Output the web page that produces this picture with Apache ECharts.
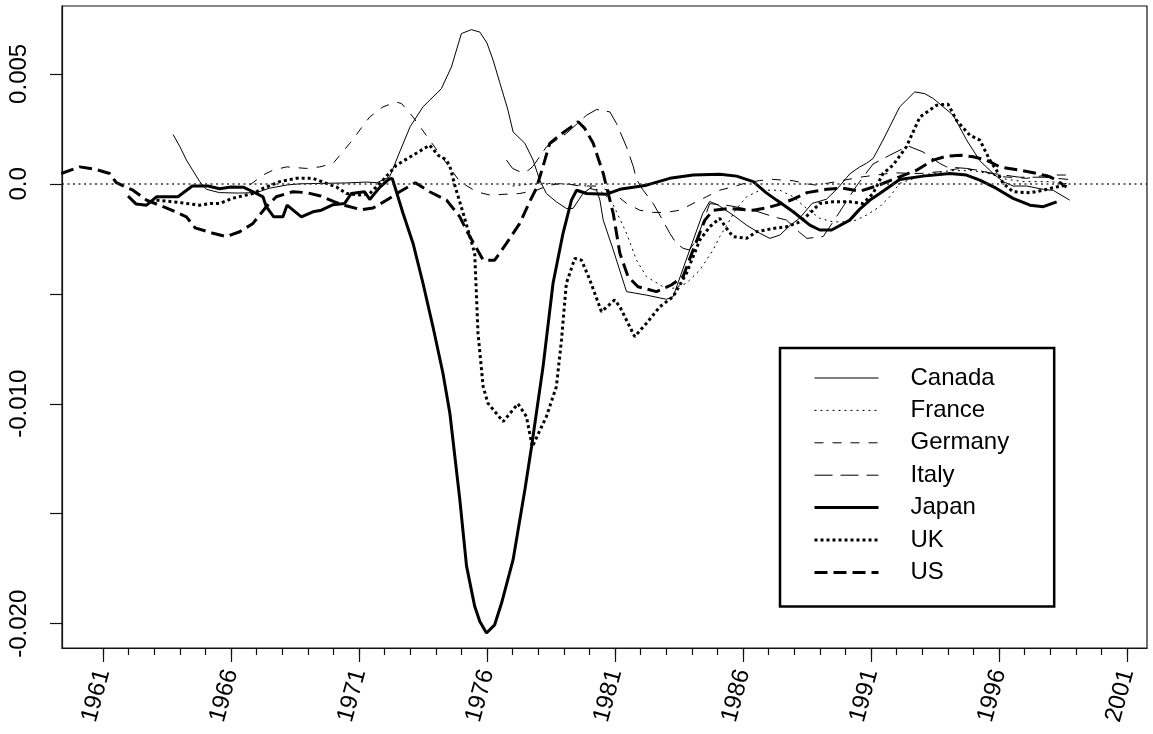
<!DOCTYPE html>
<html>
<head>
<meta charset="utf-8">
<script src="https://cdn.jsdelivr.net/npm/echarts@6/dist/echarts.min.js"></script>
<style>
html,body{margin:0;padding:0;background:#fff;}
#chart{width:1153px;height:734px;}
</style>
</head>
<body>
<div id="chart"></div>
<script>
// ---- data: [year, value] ----
var canada = [[1963.74,0.00224],[1964.0,0.0017],[1964.26,0.00108],[1964.78,0.0001],[1965.04,-0.00025],[1965.55,-0.0004],[1966.3,-0.00042],[1967.0,-0.0004],[1967.5,-0.0002],[1968.2,-0.00005],[1968.7,0.0],[1969.5,0.00002],[1970.5,0.00004],[1971.3,0.00008],[1971.7,0.00005],[1972.2,0.00032],[1972.59,0.00145],[1973.0,0.0026],[1973.5,0.0035],[1974.22,0.00433],[1974.61,0.00531],[1975.0,0.00683],[1975.39,0.00701],[1975.72,0.0069],[1976.0,0.0064],[1976.24,0.00562],[1976.5,0.0046],[1976.82,0.00335],[1977.02,0.00236],[1977.48,0.00184],[1977.8,0.00108],[1978.06,0.00017],[1978.32,-0.00044],[1978.71,-0.00082],[1979.1,-0.00112],[1979.36,-0.00112],[1979.75,-0.00044],[1980.02,-0.00021],[1980.28,-0.00029],[1980.41,-0.00074],[1980.54,-0.00165],[1980.93,-0.0030],[1981.45,-0.0049],[1982.23,-0.00506],[1983.01,-0.00525],[1983.27,-0.00513],[1983.92,-0.0030],[1984.43,-0.00134],[1984.70,-0.0008],[1985.03,-0.00097],[1985.61,-0.00142],[1986.14,-0.00188],[1986.66,-0.00225],[1987.05,-0.00248],[1987.44,-0.00233],[1987.83,-0.0019],[1988.22,-0.00155],[1988.7,-0.00089],[1989.26,-0.0007],[1989.7,-0.0002],[1990.17,0.00045],[1990.56,0.00077],[1990.82,0.00093],[1991.08,0.00115],[1991.47,0.00199],[1992.12,0.0035],[1992.71,0.00418],[1993.1,0.0041],[1993.43,0.00388],[1994.21,0.00312],[1994.73,0.002],[1995.25,0.00105],[1995.77,0.00047],[1996.16,0.0001],[1996.55,-0.0001],[1997.08,-0.0001],[1997.72,-0.00025],[1998.12,-0.0003],[1998.76,-0.00074]];
var france = [[1977.0,-0.0001],[1978.0,0.00003],[1979.0,0.0],[1979.8,-0.00008],[1980.4,-0.0003],[1980.7,-0.0006],[1980.93,-0.00095],[1981.45,-0.00225],[1981.84,-0.00347],[1982.23,-0.00422],[1982.88,-0.00468],[1983.27,-0.00475],[1983.79,-0.00452],[1984.31,-0.00392],[1984.83,-0.00301],[1985.09,-0.0024],[1985.36,-0.0019],[1985.7,-0.0012],[1986.14,-0.00059],[1986.66,-0.00029],[1987.44,-0.00029],[1987.96,-0.00059],[1988.48,-0.00112],[1989.0,-0.00157],[1989.52,-0.00173],[1990.04,-0.00173],[1990.43,-0.00165],[1990.82,-0.00142],[1991.34,-0.00104],[1991.73,-0.00059],[1992.12,0.00002],[1993.03,0.0004],[1994.08,0.0006],[1995.0,0.0006],[1995.64,0.00045],[1996.3,0.0002],[1997.0,0.0001],[1998.0,0.0001],[1998.7,0.0]];
var germany = [[1966.73,-0.00006],[1967.25,0.0004],[1967.64,0.00062],[1968.17,0.00077],[1968.95,0.0007],[1969.47,0.00077],[1969.99,0.00093],[1970.64,0.00184],[1971.42,0.00304],[1971.94,0.0035],[1972.46,0.00372],[1972.66,0.00365],[1973.11,0.00304],[1973.76,0.00199],[1974.42,0.00093],[1974.94,0.0001],[1975.59,-0.00036],[1976.11,-0.00051],[1977.28,-0.00044],[1977.93,-0.00029],[1978.45,-0.00006],[1979.0,0.00003],[1979.62,-0.0001],[1980.3,-0.0001],[1980.93,-0.0004],[1981.45,-0.00089],[1981.97,-0.0012],[1982.49,-0.0013],[1983.0,-0.0013],[1983.53,-0.0012],[1983.92,-0.00097],[1984.57,-0.00059],[1985.09,-0.00029],[1985.6,-0.00014],[1986.0,0.0],[1986.65,0.00015],[1987.18,0.0002],[1987.96,0.00014],[1988.48,0.0],[1988.87,-0.00006],[1989.65,0.0001],[1990.56,0.0003],[1991.86,0.0005],[1992.91,0.00047],[1993.68,0.00055],[1994.47,0.0007],[1995.25,0.00062],[1996.16,0.00032],[1997.08,0.00025],[1997.86,0.0004],[1998.8,0.0004]];
var italy = [[1976.76,0.00108],[1977.0,0.0007],[1977.28,0.00055],[1977.6,0.0006],[1977.8,0.0008],[1978.32,0.00168],[1979.1,0.00229],[1979.89,0.00312],[1980.28,0.00338],[1980.8,0.00327],[1981.06,0.00274],[1981.45,0.00168],[1981.71,0.0008],[1981.84,0.0002],[1982.1,-0.00029],[1982.49,-0.00089],[1982.75,-0.00142],[1983.14,-0.00225],[1983.4,-0.00271],[1983.66,-0.00293],[1983.9,-0.00301],[1984.18,-0.00256],[1984.7,-0.0009],[1985.5,-0.001],[1986.4,-0.0012],[1987.2,-0.0015],[1987.7,-0.00165],[1988.2,-0.0022],[1988.5,-0.00248],[1989.13,-0.0024],[1989.65,-0.0015],[1990.43,-0.0001],[1991.08,0.0009],[1991.73,0.0013],[1992.45,0.00172],[1993.03,0.00145],[1993.68,0.00093],[1993.95,0.00077],[1994.73,0.0007],[1995.77,0.00047],[1996.8,0.0003],[1997.8,0.0003],[1998.7,0.0002]];
var japan = [[1961.98,-0.00056],[1962.3,-0.00092],[1962.7,-0.00097],[1963.09,-0.00059],[1963.93,-0.00059],[1964.49,-0.0001],[1965.1,-0.0001],[1965.56,-0.00022],[1966.0,-0.00014],[1966.5,-0.00016],[1966.86,-0.00036],[1967.25,-0.00059],[1967.38,-0.00104],[1967.67,-0.0015],[1968.03,-0.0015],[1968.19,-0.00097],[1968.75,-0.0015],[1969.2,-0.00127],[1969.53,-0.0012],[1969.99,-0.00095],[1970.44,-0.00089],[1970.7,-0.00044],[1971.22,-0.00036],[1971.42,-0.00071],[1971.81,-0.00016],[1972.17,0.00021],[1972.3,0.00025],[1972.72,-0.00134],[1973.11,-0.0027],[1973.5,-0.00452],[1973.89,-0.0065],[1974.28,-0.00861],[1974.55,-0.01043],[1974.94,-0.01437],[1975.2,-0.01737],[1975.52,-0.01921],[1975.72,-0.0199],[1975.98,-0.02042],[1976.3,-0.02005],[1976.57,-0.01906],[1977.02,-0.01709],[1977.48,-0.01391],[1977.74,-0.01195],[1978.19,-0.00831],[1978.58,-0.00452],[1978.97,-0.00225],[1979.3,-0.00074],[1979.5,-0.00029],[1979.89,-0.00044],[1980.67,-0.00047],[1981.19,-0.00025],[1982.23,-0.00006],[1983.14,0.00025],[1984.05,0.0004],[1985.09,0.00044],[1985.75,0.00035],[1986.4,0.0001],[1986.9,-0.0004],[1987.31,-0.00074],[1987.96,-0.00127],[1988.61,-0.00188],[1989.0,-0.0021],[1989.46,-0.0021],[1990.17,-0.00165],[1990.56,-0.00115],[1990.96,-0.00074],[1991.34,-0.00044],[1992.12,0.0002],[1993.03,0.00035],[1994.08,0.00047],[1994.73,0.0004],[1995.25,0.00017],[1995.9,-0.00021],[1996.55,-0.00066],[1997.21,-0.00097],[1997.73,-0.00104],[1998.25,-0.00082]];
var uk = [[1963.09,-0.00074],[1963.99,-0.00085],[1964.78,-0.00097],[1965.2,-0.0009],[1965.56,-0.00089],[1966.08,-0.00065],[1966.86,-0.00044],[1967.25,-0.00021],[1967.9,0.0001],[1968.55,0.00025],[1969.2,0.00025],[1969.73,0.00002],[1970.12,-0.00014],[1970.51,-0.00044],[1971.03,-0.00051],[1971.42,-0.00044],[1971.94,0.00017],[1972.46,0.00085],[1973.11,0.0013],[1973.76,0.00176],[1974.09,0.0013],[1974.4,0.0011],[1974.55,0.0008],[1974.75,-0.0001],[1975.06,-0.0013],[1975.52,-0.00316],[1975.65,-0.0068],[1975.85,-0.00922],[1976.04,-0.00998],[1976.63,-0.01081],[1977.21,-0.01],[1977.54,-0.01058],[1977.77,-0.01195],[1978.32,-0.01058],[1978.71,-0.00922],[1978.91,-0.0071],[1979.1,-0.00452],[1979.43,-0.00339],[1979.69,-0.00347],[1980.02,-0.00437],[1980.47,-0.00581],[1980.99,-0.00528],[1981.19,-0.00559],[1981.77,-0.00695],[1982.23,-0.00634],[1982.75,-0.00559],[1983.27,-0.00513],[1983.79,-0.00407],[1984.31,-0.00256],[1984.7,-0.00195],[1985.09,-0.00157],[1985.36,-0.00203],[1985.61,-0.0024],[1986.14,-0.00248],[1986.53,-0.00218],[1987.18,-0.00203],[1987.7,-0.00195],[1988.22,-0.00173],[1988.61,-0.00134],[1989.0,-0.00089],[1989.52,-0.00082],[1990.17,-0.00082],[1990.69,-0.00089],[1991.08,-0.00044],[1991.47,0.00047],[1991.86,0.00085],[1992.38,0.00168],[1992.91,0.00304],[1993.56,0.00357],[1994.01,0.00362],[1994.34,0.00289],[1994.86,0.00221],[1995.25,0.00199],[1995.64,0.00108],[1995.9,0.00062],[1996.16,0.00002],[1996.55,-0.00036],[1997.21,-0.00041],[1997.73,-0.00029],[1998.25,-0.00014],[1998.64,-0.00006]];
var us = [[1959.37,0.00047],[1960.09,0.00077],[1960.74,0.00065],[1961.26,0.00047],[1961.52,0.00005],[1962.17,-0.00029],[1962.7,-0.00074],[1963.61,-0.00116],[1964.26,-0.0015],[1964.6,-0.002],[1965.3,-0.00225],[1965.82,-0.0024],[1966.34,-0.00218],[1966.86,-0.0018],[1967.38,-0.00104],[1967.77,-0.00059],[1968.42,-0.00036],[1968.95,-0.0004],[1969.5,-0.00055],[1970.0,-0.0008],[1970.5,-0.001],[1971.1,-0.00118],[1971.55,-0.0011],[1972.07,-0.00075],[1972.59,-0.00036],[1973.2,0.00005],[1973.76,-0.00036],[1974.42,-0.00074],[1974.94,-0.0015],[1975.26,-0.00225],[1975.85,-0.00347],[1976.3,-0.00347],[1976.76,-0.00271],[1977.28,-0.0018],[1977.67,-0.0008],[1977.93,-0.0002],[1978.19,0.0008],[1978.45,0.00184],[1978.84,0.00221],[1979.56,0.00282],[1979.82,0.00252],[1980.15,0.00184],[1980.54,0.00047],[1980.93,-0.00134],[1981.19,-0.00316],[1981.51,-0.00422],[1981.9,-0.00468],[1982.62,-0.0049],[1983.2,-0.0046],[1983.66,-0.00422],[1984.05,-0.00301],[1984.51,-0.00165],[1984.83,-0.0012],[1985.5,-0.00112],[1986.4,-0.0012],[1986.9,-0.0011],[1987.31,-0.00097],[1987.96,-0.0007],[1988.5,-0.0004],[1989.26,-0.00025],[1989.91,-0.0002],[1990.56,-0.00034],[1991.22,-0.0001],[1992.12,0.00032],[1992.78,0.00062],[1993.43,0.00108],[1993.95,0.00126],[1994.5,0.0013],[1994.99,0.00123],[1995.51,0.00108],[1996.03,0.00077],[1996.81,0.00062],[1997.47,0.00047],[1997.99,0.00032],[1998.25,0.00017],[1998.51,-0.00005],[1998.64,-0.00014]];

var countryNames = ['Canada','France','Germany','Italy','Japan','UK','US'];
var majorYearTicks = [1961,1966,1971,1976,1981,1986,1991,1996,2001];
var minorYearTicks = [];
for (var yr = 1961; yr <= 2001; yr++) minorYearTicks.push(yr);
var yTickValues = [-0.02,-0.015,-0.01,-0.005,0,0.005];
var yLabelValues = [-0.02,-0.01,0,0.005];
var yLabelTexts = ['-0.020','-0.010','0.0','0.005'];

var FONT = '"Liberation Sans", Arial, Helvetica, sans-serif';
var INK = '#111';

var styles = {
  Canada:  {width:1,   type:'solid'},
  France:  {width:1,   type:[2,4]},
  Germany: {width:1,   type:[9,9]},
  Italy:   {width:1,   type:[18,8]},
  Japan:   {width:3,   type:'solid'},
  UK:      {width:3,   type:[3,3]},
  US:      {width:3,   type:[13,6]}
};
var dataMap = {Canada:canada, France:france, Germany:germany, Italy:italy, Japan:japan, UK:uk, US:us};

var series = countryNames.map(function(n){
  return {
    name:n, type:'line', data:dataMap[n], xAxisIndex:0, yAxisIndex:0,
    showSymbol:false, symbol:'none', smooth:false, animation:false,
    lineStyle:{color:'#000', width:styles[n].width, type:styles[n].type},
    itemStyle:{color:'#000'}
  };
});
series[0].markLine = {
  silent:true, symbol:['none','none'], label:{show:false},
  lineStyle:{color:'#333', width:1.5, type:[2,3.5]},
  data:[{yAxis:0}], animation:false
};

var legendItems = countryNames.map(function(n){
  return {name:n, lineStyle:{color:'#000', width:styles[n].width, type:styles[n].type}};
});

var xMin = 1959.40, xMax = 2001.78;
var yMin = -0.021104, yMax = 0.008085;

var chart = echarts.init(document.getElementById('chart'), null, {renderer:'canvas'});
chart.setOption({
  animation:false,
  backgroundColor:'#fff',
  grid:{left:62, top:6, right:6, bottom:86, show:true, borderColor:INK, borderWidth:1.2, backgroundColor:'transparent'},
  xAxis:[{
    type:'value', min:xMin, max:xMax, position:'bottom',
    axisLine:{show:true, onZero:false, lineStyle:{color:INK, width:1.2}},
    axisTick:{show:true, length:14, customValues:majorYearTicks, lineStyle:{color:INK, width:1.2}},
    axisLabel:{show:true, customValues:majorYearTicks, rotate:75, margin:22, fontSize:24, fontFamily:FONT, color:'#000',
      formatter:function(v){return String(Math.round(v));}},
    splitLine:{show:false}
  },{
    type:'value', min:xMin, max:xMax, position:'bottom',
    axisLine:{show:false, onZero:false},
    axisTick:{show:true, length:7, customValues:minorYearTicks, lineStyle:{color:INK, width:1.2}},
    axisLabel:{show:false},
    splitLine:{show:false}
  }],
  yAxis:{
    type:'value', min:yMin, max:yMax,
    axisLine:{show:true, onZero:false, lineStyle:{color:INK, width:1.2}},
    axisTick:{show:true, length:12, customValues:yTickValues, lineStyle:{color:INK, width:1.2}},
    axisLabel:{show:true, customValues:yLabelValues, rotate:90, margin:31, fontSize:24, fontFamily:FONT, color:'#000',
      formatter:function(v){
        for (var i=0;i<yLabelValues.length;i++){ if (Math.abs(v-yLabelValues[i])<1e-9) return yLabelTexts[i]; }
        return '';
      }},
    splitLine:{show:false}
  },
  legend:{
    orient:'vertical', left:780, top:348,
    padding:[18,45,22,33],
    itemWidth:64, itemHeight:24, itemGap:8.4,
    borderColor:'#000', borderWidth:2.5, backgroundColor:'#fff',
    data:legendItems,
    itemStyle:{opacity:0},
    textStyle:{fontSize:24, fontFamily:FONT, color:'#000', lineHeight:24, padding:[0,0,0,27]},
    selectedMode:false
  },
  series:series
});
</script>
</body>
</html>
